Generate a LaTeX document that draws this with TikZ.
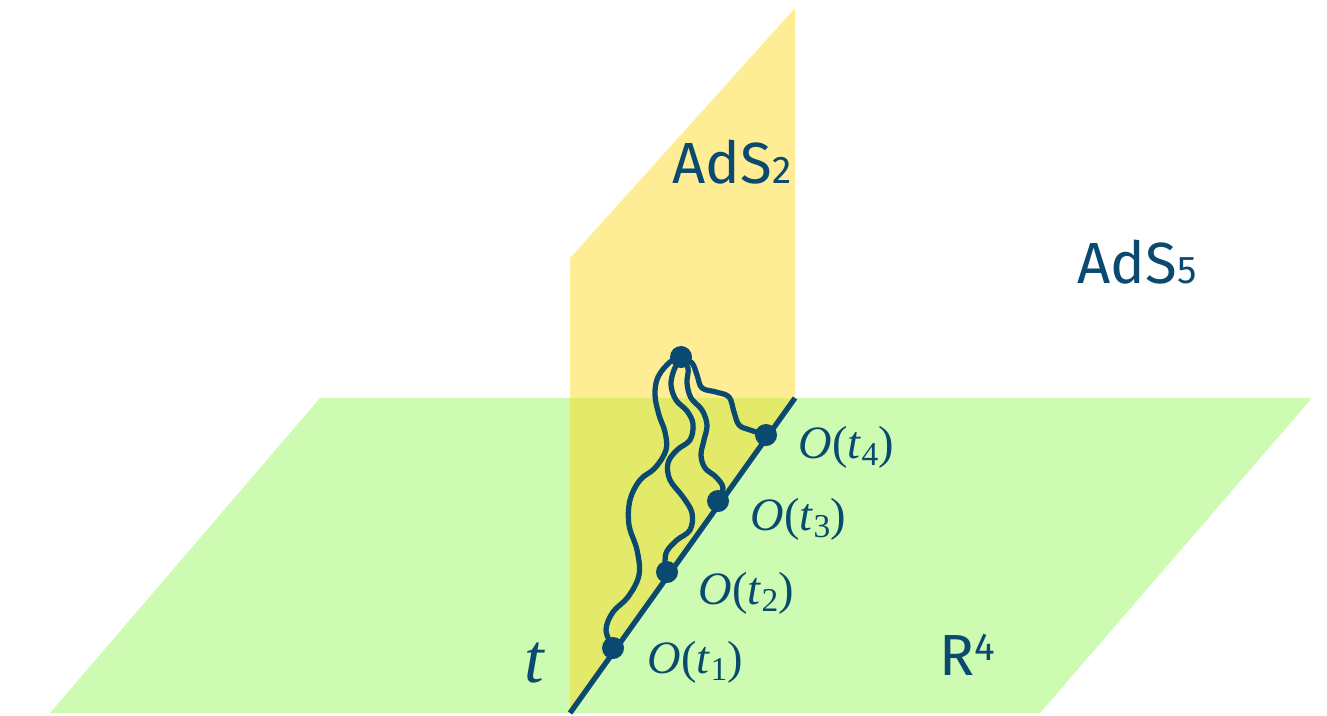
\documentclass[tikz,border=0pt]{standalone}
\usepackage{fontspec}
\setsansfont{Fira Sans}
\newfontfamily\tms{Liberation Serif}
\usetikzlibrary{calc}

\definecolor{ink}{RGB}{10,74,112}
\definecolor{planegreen}{RGB}{204,251,177}
\definecolor{planegold}{RGB}{255,214,20}

\begin{document}
\begin{tikzpicture}[
    x=0.01cm, y=-0.01cm,
    strand/.style={ink, line width=1.5pt, line cap=round},
    tline/.style={ink, line width=1.5pt},
    dot/.style={circle, fill=ink, inner sep=0pt, minimum size=0.22cm},
    olabel/.style={anchor=base west, inner sep=0pt, text=ink, font=\tms\fontsize{13.2}{16}\selectfont},
    slabel/.style={anchor=base west, inner sep=0pt, text=ink, font=\sffamily\fontsize{16.5}{19}\selectfont}
  ]
  \useasboundingbox (0,0) rectangle (1327,715);

  % planes
  \fill[planegreen] (50,713) -- (1040,713) -- (1312,398) -- (320,398) -- cycle;
  \fill[planegold, opacity=0.45] (570,713) -- (570,258) -- (795,8) -- (795,398) -- cycle;

  % boundary line and insertion points
  \coordinate (tb) at (570,713);
  \coordinate (tt) at (795,398);
  \draw[tline] (tb) -- (tt);

  \node[dot] (top) at (681,357) {};
  \node[dot] (d1) at (613,648) {};
  \node[dot] (d2) at (667,572) {};
  \node[dot] (d3) at (718,501) {};
  \node[dot] (d4) at (766,435) {};

  % strings
  \draw[strand] plot[smooth, tension=0.6] coordinates {(top.center) (670,362) (658,377) (655,395) (659,415) (665,432) (666,450) (655,468) (640,480) (630,500) (629,525) (637,550) (639,575) (628,597) (613,612) (606,630) (d1.center)};
  \draw[strand] plot[smooth, tension=0.6] coordinates {(top.center) (674,370) (671,385) (676,400) (687,411) (693,424) (690,440) (677,450) (668,463) (670,480) (683,497) (692,513) (690,530) (677,540) (667,551) (665,562) (d2.center)};
  \draw[strand] plot[smooth, tension=0.6] coordinates {(top.center) (688,368) (687,383) (691,398) (702,410) (707,425) (704,440) (701,455) (705,468) (716,477) (723,488) (d3.center)};
  \draw[strand] plot[smooth, tension=0.6] coordinates {(top.center) (692,363) (697,375) (702,388) (716,392) (729,397) (734,412) (739,425) (750,430) (d4.center)};

  % labels
  \node[olabel] (l1) at ($(d1)+(34,25)$) {\textit{O}(\textit{t}\raisebox{-0.35ex}{\fontsize{9.5}{10}\selectfont 1})};
  \node[olabel] (l2) at ($(d2)+(31,32)$) {\textit{O}(\textit{t}\raisebox{-0.35ex}{\fontsize{9.5}{10}\selectfont 2})};
  \node[olabel] (l3) at ($(d3)+(32,29)$) {\textit{O}(\textit{t}\raisebox{-0.35ex}{\fontsize{9.5}{10}\selectfont 3})};
  \node[olabel] (l4) at ($(d4)+(32,23)$) {\textit{O}(\textit{t}\raisebox{-0.35ex}{\fontsize{9.5}{10}\selectfont 4})};
  \node[olabel, font=\tms\itshape\fontsize{20}{22}\selectfont] (tlab) at (524,682) {t};

  \node[slabel] (ads2) at (672,183) {AdS{\fontsize{11}{12}\selectfont 2}};
  \node[slabel] (ads5) at (1077,283) {AdS{\fontsize{11}{12}\selectfont 5}};
  \node[slabel] (r4) at (939,675) {R\raisebox{4.2pt}{\fontsize{11}{12}\selectfont 4}};
\end{tikzpicture}
\end{document}
